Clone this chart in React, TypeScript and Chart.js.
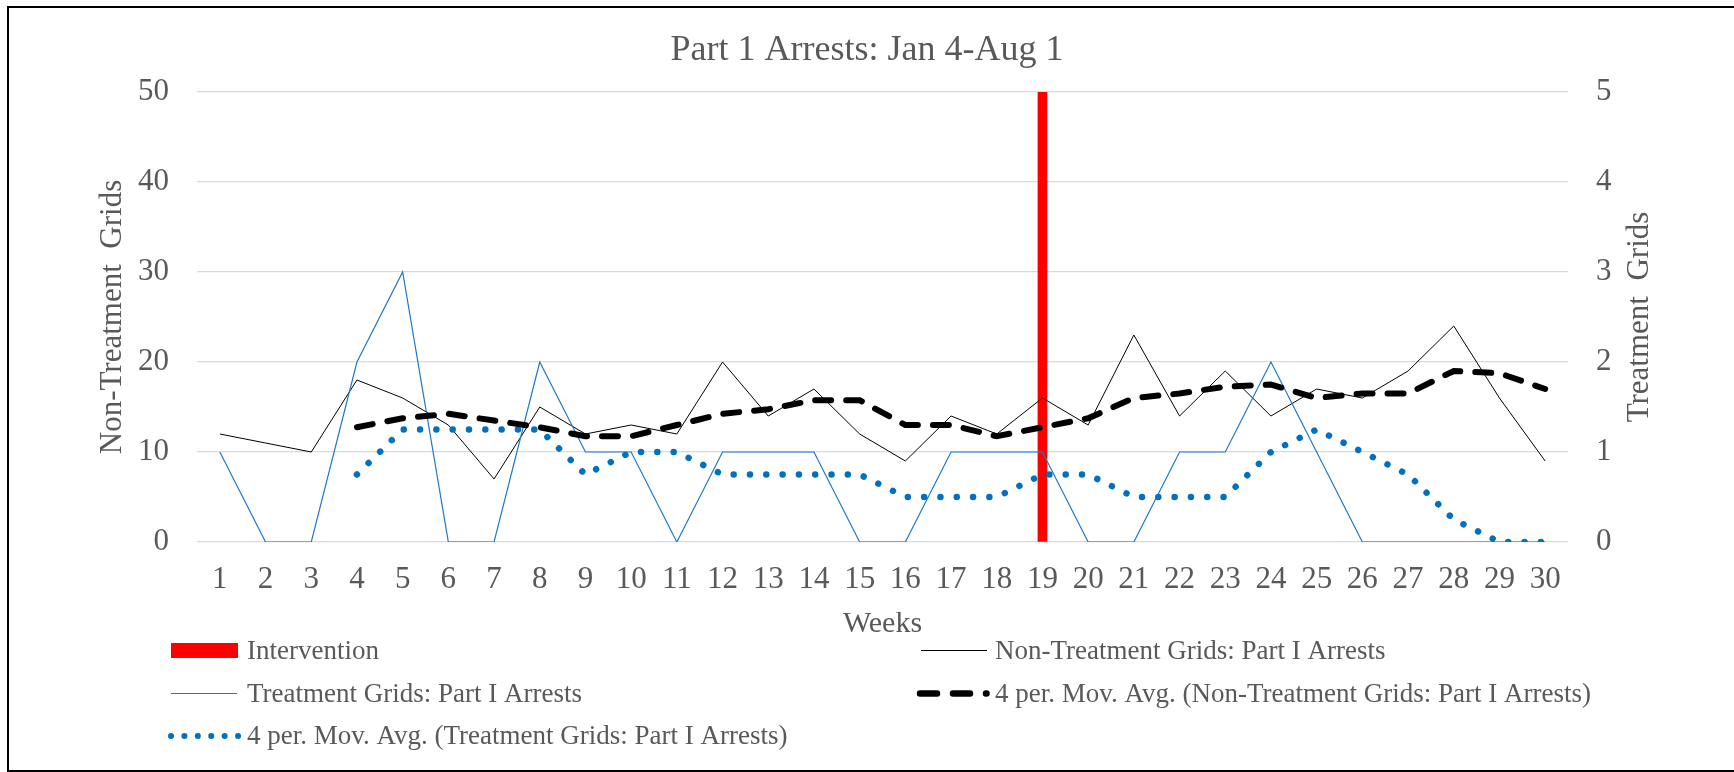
import React, { useEffect, useRef } from 'react';
import { Chart, registerables } from 'chart.js';

Chart.register(...registerables);

const weeks = ['1', '2', '3', '4', '5', '6', '7', '8', '9', '10', '11', '12', '13', '14', '15', '16', '17', '18', '19', '20', '21', '22', '23', '24', '25', '26', '27', '28', '29', '30'];

const intervention = [null, null, null, null, null, null, null, null, null, null, null, null, null, null, null, null, null, null, 50, null, null, null, null, null, null, null, null, null, null, null];

const nonTreatment = [12, 11, 10, 18, 16, 13, 7, 15, 12, 13, 12, 20, 14, 17, 12, 9, 14, 12, 16, 13, 23, 14, 19, 14, 17, 16, 19, 24, 16, 9];

const treatment = [1, 0, 0, 2, 3, 0, 0, 2, 1, 1, 0, 1, 1, 1, 0, 0, 1, 1, 1, 0, 0, 1, 1, 2, 1, 0, 0, 0, 0, 0];

const maNonTreatment = [null, null, null, 12.75, 13.75, 14.25, 13.5, 12.75, 11.75, 11.75, 13, 14.25, 14.75, 15.75, 15.75, 13, 13, 11.75, 12.75, 13.75, 16, 16.5, 17.25, 17.5, 16, 16.5, 16.5, 19, 18.75, 17];

const maTreatment = [null, null, null, 0.75, 1.25, 1.25, 1.25, 1.25, 0.75, 1, 1, 0.75, 0.75, 0.75, 0.75, 0.5, 0.5, 0.5, 0.75, 0.75, 0.5, 0.5, 0.5, 1, 1.25, 1, 0.75, 0.25, 0, 0];

const leftTicks = [0, 10, 20, 30, 40, 50];
const rightTicks = [0, 1, 2, 3, 4, 5];

const titleText = 'Part 1 Arrests: Jan 4-Aug 1';
const xTitle = 'Weeks';
const leftTitle = 'Non-Treatment  Grids';
const rightTitle = 'Treatment  Grids';

const FONT = '"Liberation Serif", "Times New Roman", Times, serif';
const TEXT = '#595959';

const axisTitlePlugin = {
  id: 'axisTitles',
  afterDraw(chart: any) {
    const { ctx, chartArea } = chart;
    const cy = (chartArea.top + chartArea.bottom) / 2;
    ctx.save();
    ctx.font = `31px ${FONT}`;
    ctx.fillStyle = TEXT;
    ctx.textAlign = 'center';
    ctx.textBaseline = 'middle';
    const items: [number, string][] = [
      [chart.scales.y.left + 113, leftTitle],
      [chart.scales.y1.right - 94, rightTitle],
    ];
    items.forEach(([x, t]) => {
      ctx.save();
      ctx.translate(x, cy);
      ctx.rotate(-Math.PI / 2);
      ctx.fillText(t, 0, 0);
      ctx.restore();
    });
    ctx.restore();
  },
};

const legendPlugin = {
  id: 'gridLegend',
  afterDraw(chart: any) {
    const ctx = chart.ctx;
    const ds = chart.data.datasets;
    const sampleX = [171, 921];
    const textX = [247, 995];
    const rowY = [651.5, 694.5, 737];
    // [datasetIndex, column, row]
    const slots = [
      [0, 0, 0],
      [1, 1, 0],
      [2, 0, 1],
      [3, 1, 1],
      [4, 0, 2],
    ];
    ctx.save();
    slots.forEach(([i, c, r]) => {
      const d = ds[i];
      const x = sampleX[c];
      const y = rowY[r] - 1;
      ctx.save();
      if (d.type === 'bar') {
        ctx.fillStyle = d.backgroundColor;
        ctx.fillRect(x, y - 7.5, 67, 15);
      } else {
        ctx.strokeStyle = d.borderColor;
        ctx.lineCap = d.borderCapStyle || 'butt';
        if (d.borderWidth > 3 && d.borderDash && d.borderDash[0] < 1) {
          ctx.lineWidth = 6;
          ctx.setLineDash([0.01, 13.4]);
          ctx.beginPath();
          ctx.moveTo(x, y);
          ctx.lineTo(x + 67.5, y);
          ctx.stroke();
        } else if (d.borderDash) {
          ctx.lineWidth = 6.5;
          ctx.setLineDash([17, 16]);
          ctx.beginPath();
          ctx.moveTo(x - 1, y);
          ctx.lineTo(x + 65.5, y);
          ctx.stroke();
        } else {
          ctx.lineWidth = d.borderWidth;
          ctx.beginPath();
          ctx.moveTo(x, y);
          ctx.lineTo(x + 66, y);
          ctx.stroke();
        }
      }
      ctx.restore();
      ctx.font = `27px ${FONT}`;
      ctx.fillStyle = TEXT;
      ctx.textAlign = 'left';
      ctx.textBaseline = 'middle';
      ctx.fillText(d.label, textX[c], rowY[r]);
    });
    ctx.restore();
  },
};

export default function App() {
  const ref = useRef<HTMLCanvasElement | null>(null);

  useEffect(() => {
    if (!ref.current) return;
    const chart = new Chart(ref.current, {
      type: 'line',
      data: {
        labels: weeks,
        datasets: [
          {
            type: 'bar',
            label: 'Intervention',
            data: intervention,
            yAxisID: 'y',
            backgroundColor: '#FF0000',
            barThickness: 9,
            order: 10,
          } as any,
          {
            label: 'Non-Treatment Grids: Part I Arrests',
            data: nonTreatment,
            yAxisID: 'y',
            borderColor: '#000000',
            borderWidth: 1,
            pointRadius: 0,
            tension: 0,
            fill: false,
            order: 4,
          },
          {
            label: 'Treatment Grids: Part I Arrests',
            data: treatment,
            yAxisID: 'y1',
            borderColor: '#1F78C8',
            borderWidth: 1.2,
            pointRadius: 0,
            tension: 0,
            fill: false,
            order: 3,
          },
          {
            label: '4 per. Mov. Avg. (Non-Treatment Grids: Part I Arrests)',
            data: maNonTreatment,
            yAxisID: 'y',
            borderColor: '#000000',
            borderWidth: 6,
            borderDash: [16, 15],
            borderCapStyle: 'round',
            pointRadius: 0,
            tension: 0,
            fill: false,
            order: 1,
          },
          {
            label: '4 per. Mov. Avg. (Treatment Grids: Part I Arrests)',
            data: maTreatment,
            yAxisID: 'y1',
            borderColor: '#0070C0',
            borderWidth: 6.5,
            borderDash: [0.01, 16.3],
            borderCapStyle: 'round',
            pointRadius: 0,
            tension: 0,
            fill: false,
            order: 2,
          },
        ],
      },
      options: {
        responsive: false,
        animation: false,
        events: [],
        layout: { padding: { left: 0, right: 0, top: 0, bottom: 130 } },
        plugins: {
          legend: { display: false },
          tooltip: { enabled: false },
          title: {
            display: true,
            text: titleText,
            color: TEXT,
            font: { family: FONT, size: 36, weight: 'normal' },
            padding: { top: 29.4, bottom: 19.4 },
          },
        },
        scales: {
          x: {
            type: 'category',
            offset: true,
            grid: { display: false, drawTicks: false },
            border: { display: false },
            ticks: {
              color: TEXT,
              font: { family: FONT, size: 31 },
              padding: 19.4,
              maxRotation: 0,
              autoSkip: false,
            },
            title: {
              display: true,
              text: xTitle,
              color: TEXT,
              font: { family: FONT, size: 30 },
              padding: { top: 0, bottom: 0 },
            },
            afterFit(scale: any) {
              scale.height = 100;
            },
          },
          y: {
            type: 'linear',
            position: 'left',
            min: leftTicks[0],
            max: leftTicks[leftTicks.length - 1],
            afterBuildTicks(scale: any) {
              scale.ticks = leftTicks.map((v) => ({ value: v }));
            },
            grid: { color: '#D9D9D9', lineWidth: 1.3, drawTicks: false },
            border: { display: false },
            ticks: {
              color: TEXT,
              font: { family: FONT, size: 31 },
              padding: 28,
            },
            afterFit(scale: any) {
              scale.width = 197;
            },
          },
          y1: {
            type: 'linear',
            position: 'right',
            min: rightTicks[0],
            max: rightTicks[rightTicks.length - 1],
            afterBuildTicks(scale: any) {
              scale.ticks = rightTicks.map((v) => ({ value: v }));
            },
            grid: { display: false, drawTicks: false },
            border: { display: false },
            ticks: {
              color: TEXT,
              font: { family: FONT, size: 31 },
              padding: 28,
            },
            afterFit(scale: any) {
              scale.width = 166;
            },
          },
        },
      },
      plugins: [axisTitlePlugin, legendPlugin],
    });
    return () => chart.destroy();
  }, []);

  return (
    <div
      style={{
        position: 'absolute',
        left: 0,
        top: 0,
        width: 1734,
        height: 772,
        overflow: 'hidden',
        background: '#ffffff',
      }}
    >
      <canvas ref={ref} width={1734} height={772} style={{ position: 'absolute', left: 0, top: 0 }} />
      <div
        style={{
          position: 'absolute',
          left: 7,
          top: 6,
          width: 1800,
          height: 766,
          boxSizing: 'border-box',
          border: '2px solid #000000',
          pointerEvents: 'none',
        }}
      />
    </div>
  );
}
